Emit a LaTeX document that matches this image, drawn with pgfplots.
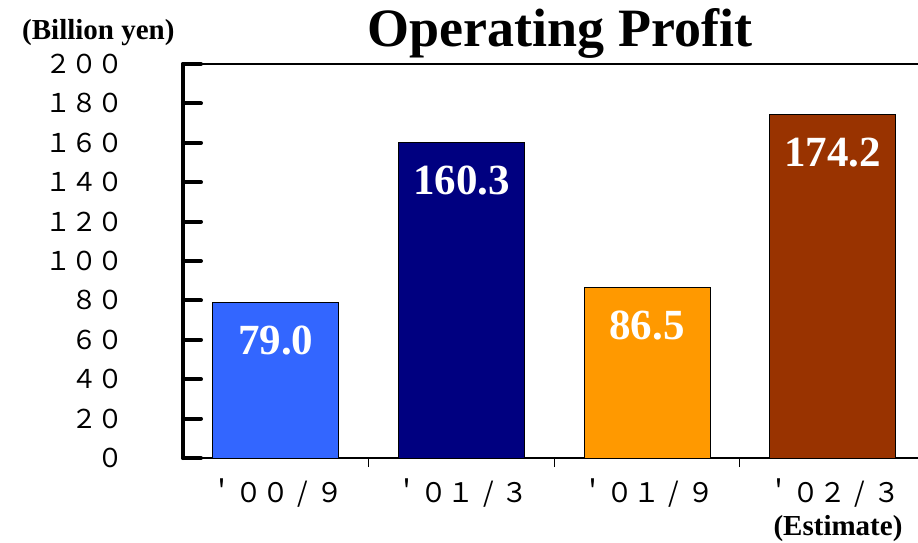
\documentclass[border=0pt]{standalone}
\usepackage{fontspec}
\setmainfont{Liberation Serif}
\newfontfamily\cjk{Noto Sans CJK JP}
\usepackage{pgfplots}
\pgfplotsset{compat=1.18}
\definecolor{cA}{HTML}{3366FF}
\definecolor{cB}{HTML}{000080}
\definecolor{cC}{HTML}{FF9900}
\definecolor{cD}{HTML}{993300}
\newcommand{\fsl}{\makebox[1em]{/}}
\begin{document}
\begin{tikzpicture}[x=1pt,y=1pt]
\begin{axis}[
  at={(183pt,84pt)}, anchor=south west,
  scale only axis, width=735pt, height=394pt,
  xmin=-0.5, xmax=3.46, ymin=0, ymax=200,
  axis lines*=left,
  x axis line style={line width=1.6pt},
  y axis line style={line width=4pt, line cap=round},
  xtick={0,1,2,3},
  xticklabels={＇００\fsl９,＇０１\fsl３,＇０１\fsl９,＇０２\fsl３},
  minor xtick={0.5,1.5,2.5},
  ytick={0,20,...,200},
  yticklabels={０,２０,４０,６０,８０,１００,１２０,１４０,１６０,１８０,２００},
  tick align=inside,
  major tick length=18pt,
  minor tick length=9pt,
  xtick style={draw=none},
  minor x tick style={draw=black, line width=1pt},
  ytick style={line width=4pt, line cap=round, black},
  xticklabel style={font=\cjk\fontsize{27}{27}\selectfont, anchor=base, yshift=-26pt, inner sep=0pt},
  yticklabel style={font=\cjk\fontsize{26}{26}\selectfont, anchor=east, xshift=-59pt, inner sep=0pt},
  ybar, bar width=126pt, bar shift=0pt,
  every axis plot/.append style={draw=black, line width=1pt},
  nodes near coords={\pgfmathprintnumber[assume math mode=true,fixed,fixed zerofill,precision=1]{\pgfplotspointmeta}},
  every node near coord/.append style={font=\bfseries\fontsize{43}{43}\selectfont, text=white, anchor=north, inner sep=0pt, yshift=-23pt},
  clip=false,
]
\addplot[fill=cA] coordinates {(0,79.0)};
\addplot[fill=cB] coordinates {(1,160.3)};
\addplot[fill=cC] coordinates {(2,86.5)};
\addplot[fill=cD] coordinates {(3,174.2)};
\draw[line width=1.6pt] (rel axis cs:0,1) -- (rel axis cs:1,1);
\end{axis}
\node[anchor=base, font=\bfseries\fontsize{54}{54}\selectfont, inner sep=0pt] at (560,495) {Operating Profit};
\node[anchor=base west, font=\bfseries\fontsize{29}{29}\selectfont, inner sep=0pt] at (22,502) {(Billion yen)};
\node[anchor=base, font=\bfseries\fontsize{29}{29}\selectfont, inner sep=0pt] at (838,7) {(Estimate)};
\pgfresetboundingbox
\path[use as bounding box] (0,0) rectangle (918,542);
\end{tikzpicture}
\end{document}
